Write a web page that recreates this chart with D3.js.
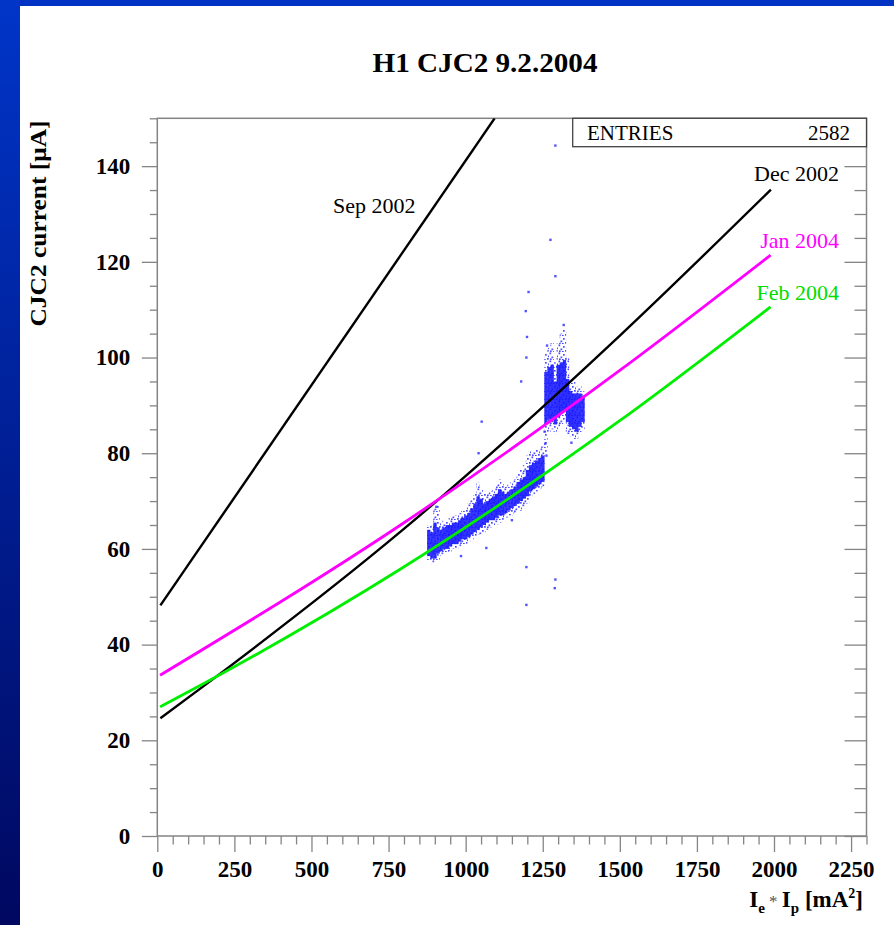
<!DOCTYPE html>
<html>
<head>
<meta charset="utf-8">
<title>H1 CJC2 9.2.2004</title>
<script src="https://d3js.org/d3.v7.min.js"></script>
<style>
  body { margin: 0; background: #fff; }
  svg { display: block; }
  text { font-family: "Liberation Serif", "Times New Roman", serif; }
</style>
</head>
<body>
<svg id="chart" width="894" height="925"></svg>
<script>
// fitted curves, x in mA^2, y in uA
const sepX = [10, 1094];
const sepY = [48.2, 150];
const decX = [10, 160, 789, 1502, 1990];
const decY = [24.6, 31.8, 63.6, 104.7, 135.1];
const janX = [9, 789, 1502, 1989];
const janY = [33.6, 65, 97.4, 121.4];
const febX = [9, 160, 789, 1502, 1989];
const febY = [27, 32.2, 55.8, 86.9, 110.6];

// scatter cloud read column by column (10 mA^2 wide): dense core and sparse halo
const bandX  = [880, 890, 900, 910, 920, 930, 940, 950, 960, 970, 980, 990, 1000, 1010, 1020, 1030, 1040, 1050, 1060, 1070, 1080, 1090, 1100, 1110, 1120, 1130, 1140, 1150, 1160, 1170, 1180, 1190, 1200, 1210, 1220, 1230, 1240, 1250, 1260, 1270, 1280, 1290, 1300, 1310, 1320, 1330, 1340, 1350, 1360, 1370, 1380];
const coreLo = [58.5, 58, 58, 59, 59.5, 60, 60, 60.5, 61, 61, 61.5, 62, 62, 62.5, 63, 63.5, 64, 64.5, 65, 65.5, 66, 66, 66.5, 67, 67, 67.5, 68, 68.5, 69, 69.5, 70, 70.5, 71, 72, 72.5, 73, 73.5, 74, 86, 87, 87, 86, 87.5, 88.5, 89, 86.5, 85.5, 85, 84.5, 85.5, 86.5];
const coreHi = [64, 63.5, 65.5, 64.5, 64, 64.5, 65, 65, 65.5, 65.5, 66, 66.5, 67, 67.5, 68.5, 69.5, 71, 70.5, 69.5, 70, 70.5, 71, 71.5, 72.5, 72, 71.5, 72, 72.5, 73, 74, 74.5, 75, 76.5, 77.5, 78, 78.5, 79, 79.5, 97, 98, 98.5, 95, 98.5, 99, 99.5, 95.5, 93, 92.5, 92.5, 92.5, 92];
const haloLo = [57.5, 57, 57, 57.5, 58.5, 59, 59, 59.5, 60, 60, 60.5, 61, 61, 61.5, 62, 62.5, 63, 63, 63.5, 64, 64.5, 65, 65, 65.5, 66, 66.5, 67, 67, 67.5, 68, 68, 68.5, 69.5, 71, 71.5, 72, 72.5, 73, 80, 84.5, 85, 84, 85, 86, 87, 84, 83.5, 83, 83, 84, 85];
const haloHi = [65, 65, 68.5, 69, 65.5, 66, 66, 66.5, 67, 67, 67.5, 68, 68.5, 69.5, 70.5, 71.5, 74, 72.5, 71.5, 71.5, 72, 72.5, 73.5, 74.5, 73.5, 73, 73.5, 74, 74.5, 76, 76.5, 77.5, 79.5, 80.5, 80.5, 81, 81, 81.5, 101, 102, 103, 99, 103, 105, 106, 100, 96, 95, 94, 94, 93];

// isolated points away from the cloud
const outX = [1291, 1275, 1291, 1204, 1195, 1199, 1197, 1180, 1318, 1264, 1052, 1042, 1067, 1197, 1197, 1291, 1289, 1343, 905, 1258, 1256, 1262, 1150, 985];
const outY = [144.3, 124.6, 117, 113.7, 109.7, 104.3, 100, 95, 106.8, 102.5, 86.6, 80, 60.2, 56.2, 48.3, 53.6, 51.8, 82.2, 68.8, 82, 84.5, 79.5, 66, 58.5];

const xTicks = d3.range(0, 2251, 250);
const yTicks = d3.range(0, 141, 20);
const entries = 2582;

const svg = d3.select("#chart");
const x = d3.scaleLinear().domain([0, 2300]).range([157.3, 866.5]);
const y = d3.scaleLinear().domain([0, 150]).range([836, 118.3]);

const defs = svg.append("defs");
// slide background frame
const grad = defs.append("linearGradient")
  .attr("id", "sideGrad").attr("x1", 0).attr("y1", 0).attr("x2", 0).attr("y2", 1);
grad.append("stop").attr("offset", "0%").attr("stop-color", "#0035c8");
grad.append("stop").attr("offset", "100%").attr("stop-color", "#000860");
svg.append("rect").attr("x", 0).attr("y", 0).attr("width", 894).attr("height", 6).attr("fill", "#0033c4");
svg.append("rect").attr("x", 0).attr("y", 0).attr("width", 20).attr("height", 925).attr("fill", "url(#sideGrad)");

defs.append("clipPath").attr("id", "plotClip")
  .append("rect").attr("x", x(0)).attr("y", y(150))
  .attr("width", x(2300) - x(0)).attr("height", y(0) - y(150));

// speckle texture for the sparse edge of the cloud
const pat = defs.append("pattern").attr("id", "speckle")
  .attr("patternUnits", "userSpaceOnUse").attr("width", 9).attr("height", 8);
[[0.5, 0.5], [5, 2], [2.5, 4.5], [7, 6], [4, 7], [8, 3.5], [1, 6.5]].forEach(p => {
  pat.append("rect").attr("x", p[0]).attr("y", p[1]).attr("width", 1.7).attr("height", 1.7)
    .attr("fill", "#2020ff").attr("opacity", 0.8);
});

// title
svg.append("text").attr("x", 485).attr("y", 72).attr("text-anchor", "middle")
  .attr("font-size", 27).attr("font-weight", "bold")
  .attr("textLength", 225).attr("lengthAdjust", "spacingAndGlyphs").text("H1 CJC2 9.2.2004");

// axes
function styleAxis(g) {
  g.select(".domain").remove();
  g.selectAll(".tick line").attr("stroke", "#858585").attr("stroke-width", 1.3);
  g.selectAll(".tick text").attr("fill", "#000").attr("font-size", 23).attr("font-weight", "bold")
    .attr("font-family", "'Liberation Serif', 'Times New Roman', serif");
}
const minorX = d3.range(0, 2301, 50).filter(v => v % 250 !== 0);
const minorY = d3.range(0, 151, 5).filter(v => v % 20 !== 0);

svg.append("g").attr("transform", `translate(0,${y(0)})`)
  .call(d3.axisBottom(x).tickValues(minorX).tickSize(8.5).tickFormat("")).call(styleAxis);
svg.append("g").attr("transform", `translate(0,${y(0)})`)
  .call(d3.axisBottom(x).tickValues(xTicks).tickSize(16).tickPadding(9).tickFormat(d3.format("d"))).call(styleAxis);
svg.append("g").attr("transform", `translate(${x(0)},0)`)
  .call(d3.axisLeft(y).tickValues(minorY).tickSize(7.5).tickFormat("")).call(styleAxis);
svg.append("g").attr("transform", `translate(${x(0)},0)`)
  .call(d3.axisLeft(y).tickValues(yTicks).tickSize(15.5).tickPadding(11.5).tickFormat(d3.format("d"))).call(styleAxis);
// right side ticks point inward
svg.append("g").attr("transform", `translate(${x(2300)},0)`)
  .call(d3.axisLeft(y).tickValues(minorY).tickSize(12).tickFormat("")).call(styleAxis);
svg.append("g").attr("transform", `translate(${x(2300)},0)`)
  .call(d3.axisLeft(y).tickValues(yTicks).tickSize(22).tickFormat("")).call(styleAxis);

// frame
svg.append("rect").attr("x", x(0)).attr("y", y(150))
  .attr("width", x(2300) - x(0)).attr("height", y(0) - y(150))
  .attr("fill", "none").attr("stroke", "#858585").attr("stroke-width", 1.5);

// axis titles
svg.append("text").attr("transform", "translate(46,223.5) rotate(-90)")
  .attr("text-anchor", "middle").attr("font-size", 23).attr("font-weight", "bold")
  .attr("textLength", 206).attr("lengthAdjust", "spacingAndGlyphs")
  .text("CJC2 current [\u03bcA]");

const xl = svg.append("text").attr("x", 863).attr("y", 907).attr("text-anchor", "end")
  .attr("font-size", 23).attr("font-weight", "bold");
xl.append("tspan").text("I");
xl.append("tspan").attr("dy", 6).attr("font-size", 15).text("e");
xl.append("tspan").attr("dy", -6).attr("font-weight", "normal").attr("fill", "#555").attr("font-size", 17).text(" * ");
xl.append("tspan").text("I");
xl.append("tspan").attr("dy", 6).attr("font-size", 15).text("p");
xl.append("tspan").attr("dy", -6).text(" [mA");
xl.append("tspan").attr("dy", -9).attr("font-size", 14).text("2");
xl.append("tspan").attr("dy", 9).text("]");

// data cloud
const plot = svg.append("g").attr("clip-path", "url(#plotClip)");
const colW = x(10) - x(0);
plot.selectAll("rect.halo").data(bandX).join("rect").attr("class", "halo")
  .attr("x", (d) => x(d) - colW / 2).attr("width", colW + 0.3)
  .attr("y", (d, i) => y(haloHi[i])).attr("height", (d, i) => y(haloLo[i]) - y(haloHi[i]))
  .attr("fill", "url(#speckle)");
plot.selectAll("rect.core").data(bandX).join("rect").attr("class", "core")
  .attr("x", (d) => x(d) - colW / 2).attr("width", colW + 0.3)
  .attr("y", (d, i) => y(coreHi[i])).attr("height", (d, i) => y(coreLo[i]) - y(coreHi[i]))
  .attr("fill", "#1414ff").attr("opacity", 0.88);
plot.selectAll("rect.out").data(outX).join("rect").attr("class", "out")
  .attr("x", (d) => x(d) - 1.2).attr("y", (d, i) => y(outY[i]) - 1.2)
  .attr("width", 2.4).attr("height", 2.4).attr("fill", "#2a2aff").attr("opacity", 0.8);

// curves
const series = [
  { xs: sepX, ys: sepY, color: "#000", w: 2.4 },
  { xs: decX, ys: decY, color: "#000", w: 2.4 },
  { xs: janX, ys: janY, color: "#ff00ff", w: 2.8 },
  { xs: febX, ys: febY, color: "#00ee00", w: 2.8 }
];
const line = d3.line().x(d => x(d[0])).y(d => y(d[1])).curve(d3.curveMonotoneX);
series.forEach(s => {
  plot.append("path").datum(s.xs.map((v, i) => [v, s.ys[i]]))
    .attr("d", line).attr("fill", "none").attr("stroke", s.color).attr("stroke-width", s.w);
});

// curve labels
svg.append("text").attr("x", 333).attr("y", 213).attr("font-size", 22).text("Sep 2002");
svg.append("text").attr("x", 839).attr("y", 181).attr("text-anchor", "end").attr("font-size", 22).text("Dec 2002");
svg.append("text").attr("x", 839).attr("y", 248).attr("text-anchor", "end").attr("font-size", 22).attr("fill", "#ff00ff").text("Jan 2004");
svg.append("text").attr("x", 839).attr("y", 300).attr("text-anchor", "end").attr("font-size", 22).attr("fill", "#00dd00").text("Feb 2004");

// stats box
svg.append("rect").attr("x", 572.7).attr("y", y(150))
  .attr("width", x(2300) - 572.7).attr("height", 28.4)
  .attr("fill", "#fff").attr("stroke", "#444").attr("stroke-width", 1.3);
svg.append("text").attr("x", 587).attr("y", 140).attr("font-size", 21).text("ENTRIES");
svg.append("text").attr("x", 850).attr("y", 140).attr("text-anchor", "end").attr("font-size", 21).text(entries);
</script>
</body>
</html>
